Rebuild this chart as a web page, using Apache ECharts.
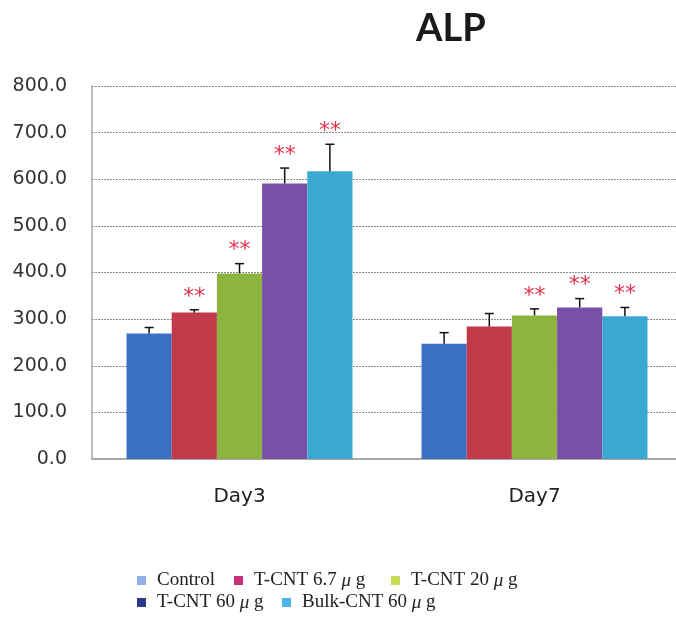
<!DOCTYPE html>
<html>
<head>
<meta charset="utf-8">
<script src="https://cdn.jsdelivr.net/npm/echarts@6/dist/echarts.min.js"></script>
<style>
html,body{margin:0;padding:0;background:#fff;}
#chart{width:676px;height:618px;}
</style>
</head>
<body>
<div id="chart"></div>
<script>
// ---- data ----
var categories = ['Day3', 'Day7'];
var seriesNames = ['Control', 'T-CNT 6.7 μ g', 'T-CNT 20 μ g', 'T-CNT 60 μ g', 'Bulk-CNT 60 μ g'];
var control     = [269, 247];
var controlErr  = [13, 24];
var tcnt67      = [314, 284];
var tcnt67Err   = [6, 28];
var tcnt20      = [398, 308];
var tcnt20Err   = [21, 14];
var tcnt60      = [591, 325];
var tcnt60Err   = [33, 19];
var bulk        = [617, 306];
var bulkErr     = [58, 19];
var controlSig  = ['', ''];
var tcnt67Sig   = ['**', ''];
var tcnt20Sig   = ['**', '**'];
var tcnt60Sig   = ['**', '**'];
var bulkSig     = ['**', '**'];
var yTicks = [0, 100, 200, 300, 400, 500, 600, 700, 800];

// ---- styling ----
var barColors    = ['#3b70c4', '#c03a49', '#8db43e', '#7a4fa8', '#3aa8d0'];
var legendColors = ['#8fb0e4', '#c8317a', '#c8dc5a', '#2a3890', '#4fb3e6'];
var GAP = 0.234;

var values = [control, tcnt67, tcnt20, tcnt60, bulk];
var errs   = [controlErr, tcnt67Err, tcnt20Err, tcnt60Err, bulkErr];
var sigs   = [controlSig, tcnt67Sig, tcnt20Sig, tcnt60Sig, bulkSig];

var chart = echarts.init(document.getElementById('chart'), null, {renderer: 'canvas'});

var series = [];
values.forEach(function (vals, i) {
  series.push({
    name: seriesNames[i],
    type: 'bar',
    data: vals,
    barGap: '0%',
    barCategoryGap: (GAP * 100) + '%',
    itemStyle: {color: barColors[i]},
    z: 2
  });
});
values.forEach(function (vals, i) {
  var d = vals.map(function (v, k) { return [k, v, errs[i][k]]; });
  series.push({
    type: 'custom',
    name: 'err' + i,
    data: d,
    z: 5,
    renderItem: function (params, api) {
      var k = api.value(0), v = api.value(1), e = api.value(2);
      var sig = sigs[i][k];
      var c = api.coord([k, v]);
      var band = api.size([1, 0])[0];
      var group = band * (1 - GAP);
      var bw = group / 5;
      var x = c[0] - group / 2 + bw * (i + 0.5);
      var top = api.coord([k, v + e])[1];
      var children = [
        {type: 'line', shape: {x1: x, y1: c[1], x2: x, y2: top}, style: {stroke: '#111', lineWidth: 1.5}},
        {type: 'line', shape: {x1: x - 4.5, y1: top, x2: x + 4.5, y2: top}, style: {stroke: '#111', lineWidth: 1.5}}
      ];
      if (sig) {
        children.push({
          type: 'text',
          style: {
            text: sig, x: x, y: top - 13,
            fill: '#e0304a', font: '22px "DejaVu Sans"',
            align: 'center', verticalAlign: 'middle'
          }
        });
      }
      return {type: 'group', children: children};
    }
  });
});

var legendPos = [
  {left: 137, top: 571}, {left: 234, top: 571}, {left: 391, top: 571},
  {left: 137, top: 593}, {left: 282, top: 593}
];
var legends = seriesNames.map(function (n, i) {
  return {
    left: legendPos[i].left, top: legendPos[i].top, padding: 0,
    itemWidth: 9, itemHeight: 9, icon: 'rect',
    data: [{name: n, itemStyle: {color: legendColors[i]}}],
    formatter: function (name) { return name.replace('μ', '{i|μ}'); },
    textStyle: {
      fontFamily: '"Liberation Serif"', fontSize: 19, color: '#222',
      lineHeight: 19, padding: [0, 0, 0, 6],
      rich: {i: {fontFamily: '"Liberation Serif"', fontSize: 19, fontStyle: 'italic', color: '#222'}}
    }
  };
});

chart.setOption({
  animation: false,
  backgroundColor: '#fff',
  title: {
    text: 'ALP', left: 411, top: 5,
    textStyle: {fontFamily: 'Lato', fontWeight: 'bold', fontSize: 38, color: '#1a1a1a'}
  },
  legend: legends,
  grid: {left: 92, right: -6, top: 86, bottom: 159, containLabel: false, outerBoundsMode: 'none'},
  xAxis: {
    type: 'category',
    data: categories,
    axisLine: {lineStyle: {color: '#a8a8a8', width: 2}},
    axisTick: {show: false},
    axisLabel: {fontFamily: '"DejaVu Sans"', fontSize: 20, color: '#222', margin: 28}
  },
  yAxis: {
    type: 'value', min: yTicks[0], max: yTicks[yTicks.length - 1], interval: 100,
    axisLine: {show: true, lineStyle: {color: '#a8a8a8', width: 1.5}},
    axisTick: {show: false},
    axisLabel: {
      fontFamily: '"DejaVu Sans"', fontSize: 19, color: '#333', margin: 25,
      formatter: function (v) { return v.toFixed(1); }
    },
    splitLine: {lineStyle: {color: '#8c8c8c', type: [2, 1], width: 1}}
  },
  series: series
});
</script>
</body>
</html>
